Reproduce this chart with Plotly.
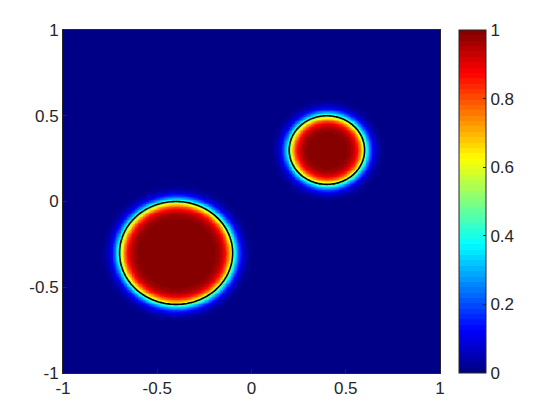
import numpy as np
import plotly.graph_objects as go

# circle parameters
centers_x = [-0.4, 0.4]
centers_y = [-0.3, 0.3]
radii = [0.3, 0.2]
interface_width = 0.045
contour_level = 0.5

axis_ticks = [-1, -0.5, 0, 0.5, 1]
axis_tick_labels = ["-1", "-0.5", "0", "0.5", "1"]
cbar_ticks = [0, 0.2, 0.4, 0.6, 0.8, 1]
cbar_tick_labels = ["0", "0.2", "0.4", "0.6", "0.8", "1"]

n_grid = 241


def jet_colorscale(n=64):
    scale = []
    for i in range(n):
        t = (i + 0.5) / n
        r = np.clip(1.5 - abs(4 * t - 3), 0, 1)
        g = np.clip(1.5 - abs(4 * t - 2), 0, 1)
        b = np.clip(1.5 - abs(4 * t - 1), 0, 1)
        col = f"rgb({int(r * 255)},{int(g * 255)},{int(b * 255)})"
        scale.append([i / n, col])
        scale.append([(i + 1) / n, col])
    return scale


def phase_field(xx, yy):
    u = np.zeros_like(xx)
    # shift so that the contour level sits on the measured radius
    shift = interface_width * np.arctanh(2 * contour_level - 1)
    for cx, cy, r in zip(centers_x, centers_y, radii):
        d = np.sqrt((xx - cx) ** 2 + (yy - cy) ** 2) - (r + shift)
        u = np.maximum(u, 0.5 * (1 - np.tanh(d / interface_width)))
    return u


x = np.linspace(-1, 1, n_grid)
y = np.linspace(-1, 1, n_grid)
xx, yy = np.meshgrid(x, y)
z = phase_field(xx, yy)

font = dict(family="Liberation Sans, Arial, sans-serif", size=17, color="#262626")

fig = go.Figure()
fig.add_trace(
    go.Heatmap(
        x=x,
        y=y,
        z=z,
        zmin=0,
        zmax=1,
        colorscale=jet_colorscale(),
        zsmooth="best",
        colorbar=dict(
            x=1.0504,
            xanchor="left",
            xpad=0,
            y=0.5,
            yanchor="middle",
            ypad=0,
            len=1,
            lenmode="fraction",
            thickness=27,
            outlinewidth=1,
            outlinecolor="#262626",
            ticks="inside",
            ticklen=3,
            tickcolor="#262626",
            tickvals=cbar_ticks,
            ticktext=cbar_tick_labels,
            tickfont=font,
        ),
    )
)
fig.add_trace(
    go.Contour(
        x=x,
        y=y,
        z=z,
        contours=dict(coloring="none", start=contour_level, end=contour_level, size=0.1),
        line=dict(color="black", width=1.6),
        showscale=False,
        hoverinfo="skip",
    )
)

axis_style = dict(
    range=[-1, 1],
    tickvals=axis_ticks,
    ticktext=axis_tick_labels,
    ticks="inside",
    ticklen=4,
    tickcolor="#262626",
    showline=True,
    linecolor="#262626",
    linewidth=1,
    mirror=True,
    showgrid=False,
    zeroline=False,
    tickfont=font,
)

fig.update_layout(
    width=560,
    height=420,
    margin=dict(l=55, r=128, t=22, b=55),
    paper_bgcolor="white",
    plot_bgcolor="white",
    xaxis=axis_style,
    yaxis=axis_style,
    showlegend=False,
)

fig.write_html("out.html")
